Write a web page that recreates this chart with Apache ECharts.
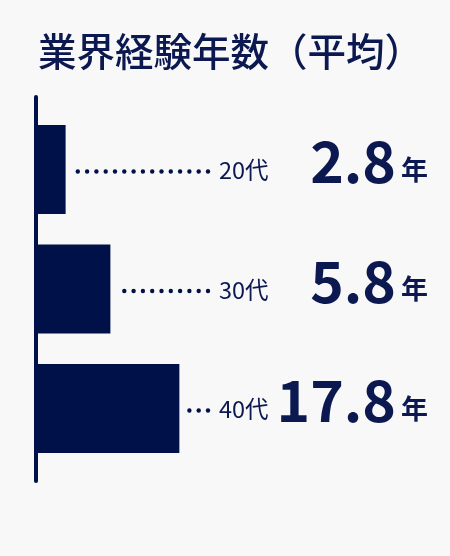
<!DOCTYPE html>
<html>
<head>
<meta charset="utf-8">
<script src="https://cdn.jsdelivr.net/npm/echarts@6/dist/echarts.min.js"></script>
<style>
  html, body { margin: 0; padding: 0; background: #f8f8f8; }
  #chart { width: 450px; height: 556px; }
</style>
</head>
<body>
<div id="chart"></div>
<script>
var TITLE = '業界経験年数（平均）';
var AGE_GROUPS = ['20代', '30代', '40代'];
var YEARS = [2.8, 5.8, 17.8];
var UNIT = '年';

var NAVY = '#001048';
var TEXT_NAVY = '#0c1850';
var FONT = '"Noto Sans CJK JP", "Noto Sans", sans-serif';
var DOT_END = 208;
var DOT_STEP = 9.3;

var chart = echarts.init(document.getElementById('chart'), null, { renderer: 'canvas' });

var barData = YEARS.map(function (v, i) { return [v, i]; });

var option = {
  backgroundColor: '#f8f8f8',
  animation: false,
  title: {
    text: TITLE,
    left: 38,
    top: 31,
    padding: 0,
    textStyle: {
      fontFamily: FONT,
      fontSize: 38.5,
      fontWeight: 500,
      lineHeight: 40,
      color: TEXT_NAVY
    }
  },
  grid: [
    { left: 36, top: 109.75, height: 358.5, width: 249.5, containLabel: false },
    { left: 36, top: 97, height: 384, width: 10, containLabel: false }
  ],
  xAxis: [
    { type: 'log', gridIndex: 0, min: 1.73, max: 100, logBase: 10, show: false },
    { type: 'value', gridIndex: 1, min: 0, max: 1, show: false }
  ],
  yAxis: [
    { type: 'category', gridIndex: 0, data: AGE_GROUPS, inverse: true, show: false },
    {
      type: 'value', gridIndex: 1, min: 0, max: 1, show: true,
      axisLine: { show: true, lineStyle: { color: NAVY, width: 4 } },
      axisTick: { show: false }, axisLabel: { show: false }, splitLine: { show: false }
    }
  ],
  series: [
    {
      type: 'bar',
      xAxisIndex: 0, yAxisIndex: 0,
      data: barData,
      encode: { x: 0, y: 1 },
      barWidth: 89,
      clip: true,
      itemStyle: { color: NAVY },
      silent: true
    },
    {
      type: 'custom',
      xAxisIndex: 0, yAxisIndex: 0,
      data: barData,
      encode: { x: 0, y: 1 },
      clip: false,
      silent: true,
      z: 5,
      renderItem: function (params, api) {
        var i = params.dataIndex;
        var p = api.coord([api.value(0), api.value(1)]);
        var barEnd = p[0], yc = p[1];
        var children = [];
        for (var x = DOT_END; x >= barEnd + 7; x -= DOT_STEP) {
          children.push({ type: 'circle', shape: { cx: x, cy: yc + 2, r: 2.2 }, style: { fill: NAVY } });
        }
        children.push({
          type: 'text',
          style: {
            text: AGE_GROUPS[i], x: 219, y: yc + 1,
            fill: TEXT_NAVY, fontFamily: FONT, fontSize: 23.5, fontWeight: 400,
            align: 'left', verticalAlign: 'middle'
          }
        });
        children.push({
          type: 'text',
          style: {
            text: YEARS[i].toFixed(1), x: 396, y: yc - 8,
            fill: TEXT_NAVY, fontFamily: FONT, fontSize: 57, fontWeight: 700,
            align: 'right', verticalAlign: 'middle'
          }
        });
        children.push({
          type: 'text',
          style: {
            text: UNIT, x: 401, y: yc,
            fill: TEXT_NAVY, fontFamily: FONT, fontSize: 27, fontWeight: 700,
            align: 'left', verticalAlign: 'middle'
          }
        });
        return { type: 'group', children: children };
      }
    }
  ]
};

chart.setOption(option);
</script>
</body>
</html>
